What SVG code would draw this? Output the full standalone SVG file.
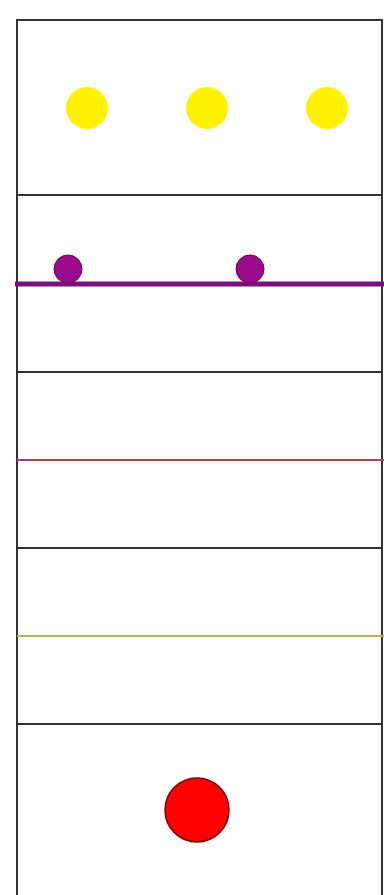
<svg xmlns="http://www.w3.org/2000/svg" width="384" height="895" viewBox="0 0 384 895">
<style>
.panel{fill:#ffffff;stroke:#333333;stroke-width:2}
.sun{fill:#fff200}
.bead{fill:#9a0a8a;stroke:#5a0a50;stroke-width:1}
</style>
<rect width="384" height="895" fill="#ffffff"/>
<g id="panel1"><rect class="panel" x="17" y="20" width="365" height="175"/>
<circle class="sun" cx="87" cy="108" r="21"/>
<circle class="sun" cx="207" cy="108" r="21"/>
<circle class="sun" cx="327" cy="108" r="21"/></g>
<g id="panel2"><rect class="panel" x="17" y="195" width="365" height="177"/>
<circle class="bead" cx="68" cy="269" r="14"/>
<circle class="bead" cx="250" cy="269" r="14"/>
<line x1="15" y1="284" x2="384" y2="284" stroke="#7a1078" stroke-width="5"/></g>
<g id="panel3"><rect class="panel" x="17" y="372" width="365" height="176"/>
<line x1="17" y1="460" x2="384" y2="460" stroke="#9a4a5a" stroke-width="2"/></g>
<g id="panel4"><rect class="panel" x="17" y="548" width="365" height="176"/>
<line x1="17" y1="636" x2="384" y2="636" stroke="#b4b460" stroke-width="2"/></g>
<g id="panel5"><path d="M17 897 V724 H382 V897" fill="#ffffff" stroke="#333333" stroke-width="2"/>
<circle cx="197" cy="810" r="32" fill="#ff0000" stroke="#7a0000" stroke-width="1.5"/></g>
<g id="connectors"/>
</svg>
